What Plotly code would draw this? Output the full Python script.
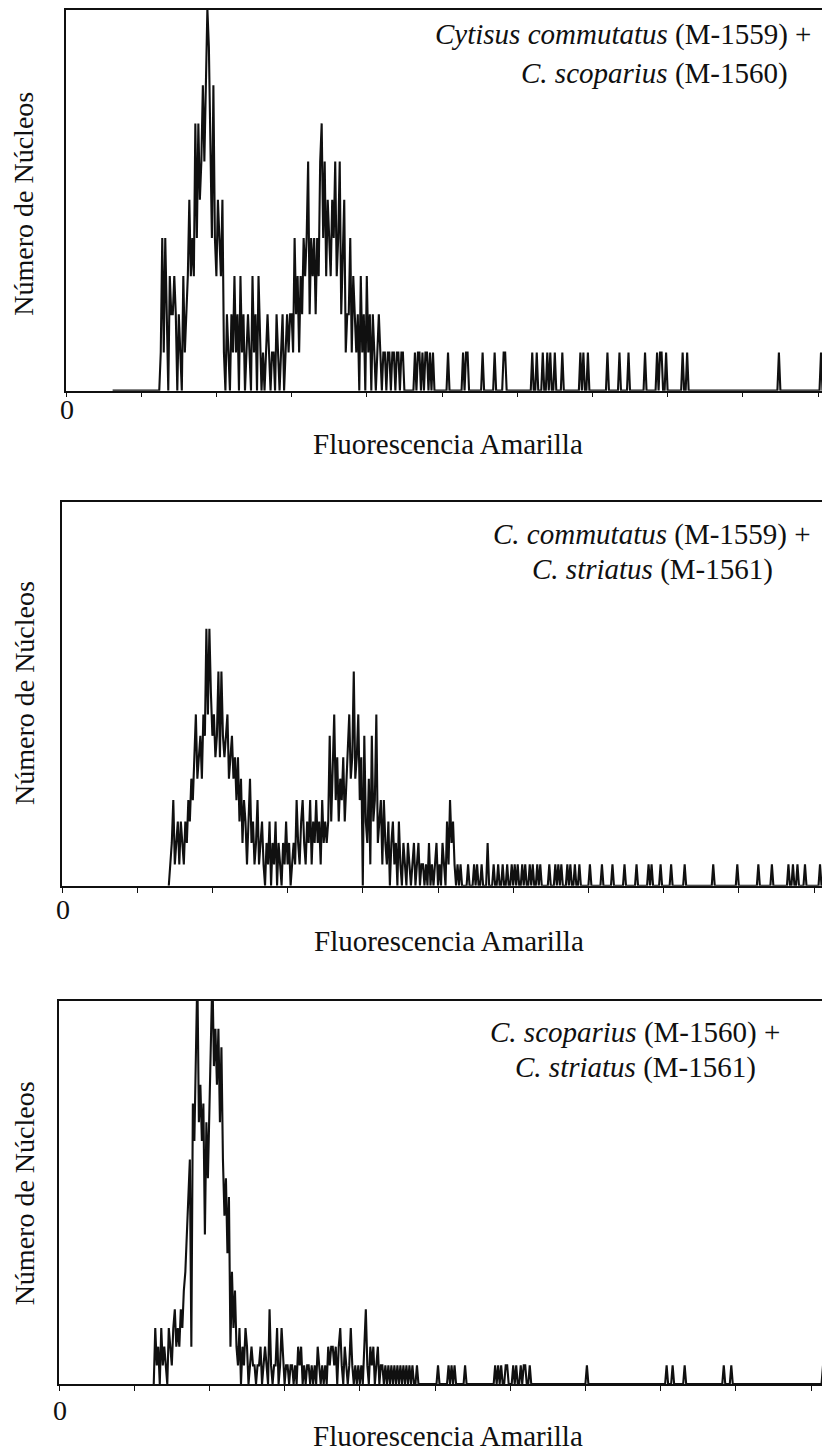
import plotly.graph_objects as go

# The page body adds an 8px margin, so the figure is drawn 8px smaller and every
# reference pixel position is shifted by OFF.
OFF = 8
W, H = 830 - OFF, 1451 - OFF

# ---------------- data: counts per fluorescence bin (2 channels per bin) -------------
# Panel 1: Cytisus commutatus (M-1559) + C. scoparius (M-1560)
p1_first_bin = 31
p1_last_bin = 511
p1_dense_start = 63
p1_dense = [
    1, 4, 1, 4, 2, 0, 3, 2, 2, 3,
    2, 0, 2, 1, 0, 3, 1, 2, 3, 5,
    3, 4, 3, 7, 4, 7, 5, 6, 8, 6,
    8, 10, 9, 6, 4, 8, 4, 3, 5, 4,
    3, 5, 1, 0, 2, 1, 0, 2, 1, 3,
    1, 2, 0, 3, 1, 2, 0, 1, 2, 1,
    0, 3, 1, 2, 0, 3, 1, 0, 1, 0,
    1, 2, 1, 0, 1, 1, 0, 2, 1, 0,
    1, 2, 0, 1, 2, 1, 2, 2, 1, 4,
    2, 3, 1, 3, 2, 4, 3, 4, 6, 2,
    4, 3, 4, 2, 4, 3, 6, 7, 4, 6,
    3, 5, 4, 3, 5, 4, 6, 3, 4, 6,
    2, 4, 5, 1, 2, 2, 4, 1, 3, 2,
    1, 2, 0, 3, 1, 2, 0, 3, 1, 2,
    0, 2, 1, 0, 1, 2, 1, 0, 1, 1,
    0, 1, 1, 0, 1, 1, 0, 1, 1, 0,
    1, 1, 0, 0, 0, 0, 0, 0, 0, 1,
    0, 1, 1, 0, 1, 0, 1, 1, 0, 1, 0, 1, 0,
]
p1_tail_bins = [254, 264, 266, 267, 277, 285, 291, 292, 310, 313, 317, 320, 322,
                325, 330, 342, 344, 347, 360, 368, 374, 385, 393, 395, 396, 399,
                410, 413, 474, 502, 505, 507]
p1_tail_counts = [1, 1, 1, 1, 1, 1, 1, 1, 1, 1, 1, 1, 1,
                  1, 1, 1, 1, 1, 1, 1, 1, 1, 1, 1, 1, 1,
                  1, 1, 1, 1, 1, 1]

# Panel 2: C. commutatus (M-1559) + C. striatus (M-1561)
p2_first_bin = 71
p2_last_bin = 512
p2_dense_start = 71
p2_dense = [
    0, 1, 2, 4, 1, 2, 3, 1, 3, 2,
    1, 3, 2, 4, 3, 5, 4, 6, 8, 5,
    6, 7, 5, 8, 7, 12, 8, 12, 9, 7,
    8, 6, 7, 10, 6, 10, 7, 6, 7, 8,
    5, 6, 7, 5, 6, 4, 6, 3, 5, 2,
    4, 3, 1, 3, 5, 2, 3, 1, 2, 4,
    1, 2, 3, 1, 0, 2, 1, 3, 0, 2,
    1, 3, 0, 2, 1, 0, 2, 1, 3, 1,
    2, 0, 1, 2, 1, 4, 2, 1, 3, 4,
    2, 1, 3, 2, 4, 1, 3, 2, 4, 2,
    3, 1, 4, 2, 3, 2, 3, 7, 3, 5,
    8, 4, 6, 3, 5, 4, 6, 3, 5, 7,
    8, 5, 6, 10, 5, 6, 8, 4, 6, 0,
    7, 3, 2, 5, 1, 7, 3, 4, 8, 2,
    3, 4, 1, 4, 2, 1, 3, 0, 2, 3,
    1, 2, 0, 3, 1, 0, 2, 1, 0, 2,
    1, 0, 1, 2, 0, 1, 2, 0, 1, 1,
    0, 1, 0, 2, 0, 1, 0, 1, 2, 0,
    1, 0, 2, 1, 0, 3, 1, 4, 2, 3,
    1, 0, 1, 0, 1,
]
p2_tail_bins = [270, 274, 276, 279, 283, 287, 290, 293, 296, 299, 301, 303, 306,
                308, 311, 313, 316, 318, 324, 328, 330, 332, 336, 338, 341, 344,
                351, 359, 366, 374, 382, 390, 392, 398, 405, 414, 433, 449, 463,
                472, 483, 486, 489, 494, 504, 507, 509, 510, 511]
p2_tail_counts = [1, 1, 1, 1, 2, 1, 1, 1, 1, 1, 1, 1, 1,
                  1, 1, 1, 1, 1, 1, 1, 1, 1, 1, 1, 1, 1,
                  1, 1, 1, 1, 1, 1, 1, 1, 1, 1, 1, 1, 1,
                  1, 1, 1, 1, 1, 1, 1, 1, 6, 6]

# Panel 3: C. scoparius (M-1560) + C. striatus (M-1561)
p3_first_bin = 63
p3_last_bin = 514
p3_dense_start = 63
p3_dense = [
    0, 3, 1, 2, 0, 3, 1, 2, 1, 0,
    3, 2, 1, 3, 4, 2, 3, 2, 4, 3,
    5, 6, 8, 9, 12, 2, 15, 13, 17, 22,
    14, 16, 13, 15, 8, 14, 11, 16, 19, 22,
    17, 19, 16, 19, 14, 18, 12, 9, 11, 7,
    10, 2, 6, 3, 5, 2, 1, 3, 0, 2,
    1, 3, 2, 0, 1, 2, 1, 1, 0, 1,
    1, 2, 0, 1, 2, 1, 0, 4, 1, 0,
    1, 1, 3, 0, 1, 3, 1, 0, 1, 1,
    0, 1, 1, 0, 1, 0, 2, 1, 2, 0,
    1, 0, 1, 1, 0, 1, 0, 1, 0, 2,
    1, 0, 1, 0, 1, 0, 2, 1, 2, 2,
    1, 2, 0, 2, 3, 1, 0, 2, 1, 0,
    1, 3, 1, 0, 1, 0, 1, 0, 1, 0,
    2, 4, 1, 0, 2, 1, 2, 0, 1, 2,
    0, 1, 1, 0, 1, 0, 1, 0, 1, 0,
    1, 0, 1, 0, 1, 0, 1, 0, 1, 0,
    1, 0, 1, 0, 0, 1, 0, 0,
]
p3_tail_bins = [252, 259, 261, 263, 270, 290, 292, 294, 297, 298, 302, 304, 307,
                309, 310, 313, 351, 404, 408, 416, 442, 447, 508, 511, 512, 513]
p3_tail_counts = [1, 1, 1, 1, 1, 1, 1, 1, 1, 1, 1, 1, 1,
                  1, 1, 1, 1, 1, 1, 1, 1, 1, 1, 2, 6, 7]

tick_bins = [0, 50, 100, 150, 200, 250, 300, 350, 400, 450, 500]

titles = [
    ("<i>Cytisus commutatus</i> (M-1559) +", "<i>C. scoparius</i> (M-1560)"),
    ("<i>C. commutatus</i> (M-1559) +", "<i>C. striatus</i> (M-1561)"),
    ("<i>C. scoparius</i> (M-1560) +", "<i>C. striatus</i> (M-1561)"),
]
y_title = "Número de Núcleos"
x_title = "Fluorescencia Amarilla"

# ---------------- layout geometry (reference pixels) ----------------
PX_PER_BIN = 1.504
panels = [
    dict(x0=66, top=8.0, bottom=389.2, ymax=9.97,
         t1=(813, 33), t2=(790, 72), ylab=(24, 202), xlab=(448, 443), zero=(67, 408)),
    dict(x0=62, top=501, bottom=885, ymax=17.9,
         t1=(813, 533), t2=(775, 568), ylab=(24, 692), xlab=(449, 940), zero=(63, 909)),
    dict(x0=59, top=1000, bottom=1384, ymax=20.5,
         t1=(782, 1032), t2=(758, 1067), ylab=(24, 1193), xlab=(448, 1436), zero=(60, 1410)),
]


def fx(px):
    return min(1.0, max(0.0, (px - OFF) / W))


def fy(py):
    return min(1.0, max(0.0, 1 - (py - OFF) / H))


def build(first, last, dense_start, dense, tail_bins, tail_counts):
    xs = list(range(first, last + 1))
    ys = [0] * len(xs)
    for i, v in enumerate(dense):
        ys[dense_start - first + i] = v
    for b, v in zip(tail_bins, tail_counts):
        if first <= b <= last:
            ys[b - first] = v
    return xs, ys


series = [
    build(p1_first_bin, p1_last_bin, p1_dense_start, p1_dense, p1_tail_bins, p1_tail_counts),
    build(p2_first_bin, p2_last_bin, p2_dense_start, p2_dense, p2_tail_bins, p2_tail_counts),
    build(p3_first_bin, p3_last_bin, p3_dense_start, p3_dense, p3_tail_bins, p3_tail_counts),
]

FONT = "Liberation Serif"
INK = "#101010"

fig = go.Figure()
annotations = []
layout_axes = {}

for i, (p, (xs, ys)) in enumerate(zip(panels, series)):
    n = "" if i == 0 else str(i + 1)
    fig.add_trace(go.Scatter(
        x=xs, y=ys, mode="lines",
        line=dict(color=INK, width=2.1, shape="linear"),
        xaxis="x" + n, yaxis="y" + n, showlegend=False, hoverinfo="skip",
    ))
    xr = (830 - p["x0"]) / PX_PER_BIN
    layout_axes["xaxis" + n] = dict(
        domain=[fx(p["x0"]), 1.0], range=[0, xr], anchor="y" + n,
        showline=True, linecolor=INK, linewidth=1.6, mirror=True,
        ticks="outside", ticklen=5, tickwidth=1.3, tickcolor=INK,
        tickvals=tick_bins, showticklabels=False, showgrid=False, zeroline=False,
        fixedrange=True,
    )
    layout_axes["yaxis" + n] = dict(
        domain=[fy(p["bottom"]), fy(p["top"])], range=[0, p["ymax"]],
        anchor="x" + n, showline=True, linecolor=INK, linewidth=1.6, mirror=False,
        ticks="", showticklabels=False, showgrid=False, zeroline=False,
        fixedrange=True,
    )
    for (txt, pos) in ((titles[i][0], p["t1"]), (titles[i][1], p["t2"])):
        annotations.append(dict(
            text=txt, x=fx(pos[0]), y=fy(pos[1]), xref="paper", yref="paper",
            xanchor="right", yanchor="middle", showarrow=False,
            font=dict(family=FONT, size=29, color=INK)))
    annotations.append(dict(
        text=y_title, x=fx(p["ylab"][0]), y=fy(p["ylab"][1]),
        xref="paper", yref="paper", xanchor="center", yanchor="middle",
        textangle=-90, showarrow=False, font=dict(family=FONT, size=28, color=INK)))
    annotations.append(dict(
        text=x_title, x=fx(p["xlab"][0]), y=fy(p["xlab"][1]),
        xref="paper", yref="paper", xanchor="center", yanchor="middle",
        showarrow=False, font=dict(family=FONT, size=29, color=INK)))
    annotations.append(dict(
        text="0", x=fx(p["zero"][0]), y=fy(p["zero"][1]),
        xref="paper", yref="paper", xanchor="center", yanchor="middle",
        showarrow=False, font=dict(family=FONT, size=28, color=INK)))

fig.update_layout(
    width=W, height=H, autosize=False,
    margin=dict(l=0, r=0, t=0, b=0, pad=0),
    paper_bgcolor="white", plot_bgcolor="white",
    annotations=annotations,
    **layout_axes,
)

fig.write_html("out.html")
